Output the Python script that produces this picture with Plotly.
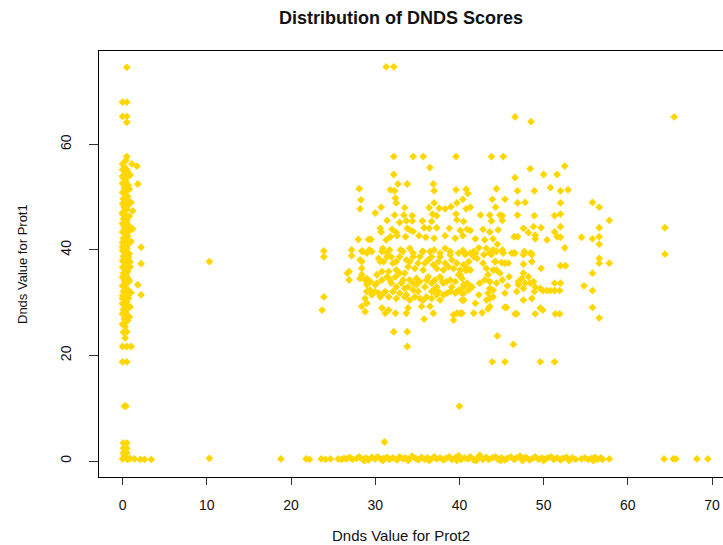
import plotly.graph_objects as go

# Genes with Prot2 dN/dS near zero (vertical band on the left)
band_prot2 = [0.5, 0.0, 1.1, 1.7, 0.0, 0.5, 0.3, 0.6, 0.1, 0.4, 0.0, 1.8, 0.7, 0.2, 0.5, 0.0, 0.3, 0.6, 0.1, 0.4,
              0.0, 0.7, 0.2, 0.5, 1.2, 0.0, 0.3, 0.6, 0.1, 0.4, 0.0, 0.7, 1.2, 0.2, 0.5, 0.0, 0.3, 0.6, 0.1, 0.4,
              0.0, 0.7, 0.2, 2.2, 0.5, 0.0, 0.3, 0.6, 0.1, 0.4, 0.0, 0.9, 0.2, 2.2, 0.5, 0.0, 0.3, 0.6, 0.1, 0.4,
              0.0, 0.7, 0.2, 1.8, 0.5, 0.0, 0.3, 0.6, 0.1, 0.4, 2.2, 0.0, 0.7, 0.2, 0.5, 0.0, 0.3, 0.6, 0.1, 0.4,
              0.0, 0.5, 0.2, 0.6, 0.1, 0.3, 0.5, 0.1, 0.3, 0.0, 0.5, 1.0, 0.0, 0.5, 0.2, 0.4,
              0.4, 0.2, 0.6, 0.0, 0.3, 0.5, 0.1, 0.6, 0.3, 0.0, 0.5, 0.2, 0.6, 0.3, 0.0, 0.4, 0.7, 0.2, 0.4, 0.1,
              0.6, 0.3, 0.0, 0.4, 0.2, 0.5, 0.0,
              0.9, 0.8, 1.0, 0.8, 0.9, 1.0, 0.8, 0.9, 0.8, 1.0, 0.9, 0.8,
              0.5, 0.0, 0.5, 0.0, 0.5, 0.5,
              0.1, 0.5, 0.1, 0.5, 0.1, 0.5, 0.0, 0.3, 0.6, 0.9, 2.1, 2.6, 3.4, 1.4, 0.2]
band_prot1 = [57.7, 56.3, 56.3, 55.9, 55.2, 55.2, 54.5, 53.9, 53.6, 53.0, 52.6, 52.5, 52.2, 51.8, 51.3, 50.9, 50.6, 50.1, 49.7, 49.4,
              48.8, 48.5, 48.1, 47.7, 47.4, 47.1, 46.6, 46.2, 45.9, 45.4, 45.0, 44.7, 44.0, 44.3, 43.8, 43.4, 43.1, 42.6, 42.2, 41.9,
              41.4, 41.1, 40.7, 40.5, 40.3, 39.9, 39.5, 39.2, 38.8, 38.3, 38.0, 37.7, 37.6, 37.4, 37.1, 36.7, 36.3, 35.9, 35.6, 35.2,
              34.8, 34.5, 34.1, 33.4, 33.7, 33.2, 32.9, 32.5, 32.1, 31.7, 31.5, 31.3, 30.9, 30.6, 30.2, 29.8, 29.4, 29.0, 28.7, 28.2,
              27.9, 27.4, 27.0, 26.6, 26.1, 25.5, 24.5, 24.4, 23.3, 21.7, 21.7, 21.7, 18.8, 18.8, 10.4, 10.4,
              57.0, 55.7, 54.8, 54.0, 52.9, 52.0, 51.0, 49.3, 48.0, 46.8, 45.6, 44.6, 43.3, 42.0, 40.6, 39.7, 38.6, 37.9, 36.5, 35.0,
              33.9, 32.4, 30.8, 29.6, 28.4, 26.9, 25.9,
              54.2, 51.5, 49.0, 46.4, 43.9, 41.6, 39.3, 36.8, 34.1, 31.9, 29.2, 27.3,
              74.6, 68.0, 68.0, 65.3, 65.3, 64.2,
              3.4, 3.4, 2.4, 2.4, 1.5, 1.5, 0.4, 0.6, 0.3, 0.5, 0.3, 0.3, 0.3, 0.4, 1.0]

# Genes with Prot1 dN/dS near zero (horizontal band along the bottom)
floor_prot2 = [10.3, 18.8, 21.8, 22.2, 23.6, 24.1, 24.7, 25.6, 26.0, 26.3,
               26.6, 27.0, 27.3, 27.8, 28.1, 28.5, 28.9, 29.2, 29.6, 30.0, 30.3, 30.7, 31.0, 31.4, 31.7, 32.1, 32.6, 32.9,
               33.3, 33.6, 34.0, 34.4, 34.8, 35.1, 35.5, 35.9, 36.2, 36.6, 37.0, 37.3, 37.7, 38.1, 38.4, 38.8, 39.1, 39.5,
               39.9, 40.2, 40.6, 41.0, 41.3, 41.7, 42.1, 42.4, 42.8, 43.2, 43.5, 43.9, 44.3, 44.6, 45.0, 45.4, 45.7, 46.1,
               46.5, 46.8, 47.2, 47.6, 47.9, 48.3, 48.7, 49.0, 49.4, 49.8, 50.1, 50.5, 50.9, 51.2, 51.6, 52.0, 52.3, 52.7,
               53.1, 53.4, 53.8, 54.5, 54.9, 55.3, 55.7, 56.1, 56.4, 56.8, 57.0, 57.8, 64.3, 65.4, 65.7, 68.2, 69.5,
               28.7, 30.9, 33.9, 36.4, 39.7, 42.0, 44.9, 47.5, 50.0, 53.0, 55.9, 31.1]
floor_prot1 = [0.5, 0.4, 0.4, 0.3, 0.4, 0.3, 0.4, 0.4, 0.3, 0.5,
               0.4, 0.7, 0.3, 0.5, 0.8, 0.3, 0.6, 0.2, 0.7, 0.4, 0.8, 0.3, 0.5, 0.7, 0.3, 0.6, 0.2, 0.8,
               0.4, 0.6, 0.3, 0.9, 0.5, 0.2, 0.7, 0.3, 0.6, 0.3, 0.8, 0.4, 0.6, 0.2, 0.5, 0.8, 0.3, 0.6,
               1.0, 0.3, 0.6, 0.4, 0.8, 0.2, 0.5, 1.1, 0.3, 0.7, 0.3, 0.6, 0.8, 0.3, 0.6, 0.2, 0.5, 0.8,
               0.3, 0.6, 0.9, 0.4, 0.7, 0.2, 0.5, 0.8, 0.3, 0.6, 0.3, 0.6, 0.8, 0.3, 0.6, 0.2, 0.5, 0.7,
               0.3, 0.6, 0.3, 0.4, 0.6, 0.3, 0.5, 0.7, 0.3, 0.6, 0.3, 0.4, 0.4, 0.4, 0.4, 0.4, 0.4,
               0.1, 0.1, 0.1, 0.1, 0.1, 0.1, 0.1, 0.1, 0.1, 0.1, 0.1, 3.6]

# Genes with both values away from zero (central cloud and scattered outliers)
cloud_prot2 = [31.3, 32.2, 46.6, 48.5, 65.5, 64.4, 64.4, 40.0, 10.3,
               32.2, 34.5, 35.7, 39.6, 36.5, 32.2, 32.7, 33.8, 36.9, 28.1, 31.8, 32.3, 37.0, 39.6, 40.8,
               28.3, 32.4, 40.4, 28.2, 32.5, 30.0, 30.7, 33.5, 36.4, 37.0, 37.6, 38.3, 39.0, 39.7, 40.8,
               32.3, 33.4, 34.4, 36.8, 37.3, 39.6, 31.4, 32.9, 33.7, 34.4, 35.6, 36.7, 39.7, 40.5,
               30.6, 30.7, 32.0, 32.5, 33.8, 34.1, 34.5, 35.8, 36.4, 37.3, 38.8, 40.1, 40.9,
               28.0, 29.2, 29.5, 31.3, 31.8, 32.6, 33.6, 35.2, 36.0, 37.0, 38.3, 39.5, 40.4,
               23.9, 23.9, 27.2, 27.2, 28.4, 29.3, 30.9, 31.7, 33.0, 34.1, 35.6, 37.0, 38.3, 38.9, 40.4,
               43.8, 45.2, 52.5, 48.4, 50.0, 51.6, 46.6, 50.8, 44.4, 46.9, 48.9, 52.0, 52.9, 41.0, 43.9, 45.4,
               46.9, 47.8, 52.0, 55.8, 56.6, 41.3, 44.3, 42.5, 43.6, 44.8, 45.1, 46.9, 48.9, 51.3, 52.0, 43.8,
               45.1, 57.8, 47.6, 48.8, 49.7, 52.0, 56.6, 42.8, 44.6, 41.3, 43.6, 48.2, 49.0, 51.3, 46.5, 46.9,
               49.0, 50.4, 51.6, 52.0, 54.5, 55.8, 56.6, 41.9, 43.0, 44.0, 44.5, 52.5, 56.6, 42.3, 43.2, 44.0,
               45.1, 46.6, 47.7, 48.5, 56.6, 41.9,
               26.9, 26.7, 26.9, 28.4, 28.4, 28.2, 28.8, 29.0, 29.0, 29.4, 28.8, 29.0, 28.4, 28.8, 23.9, 23.7,
               30.6, 30.8, 30.2, 30.0, 30.0, 31.0, 30.6, 30.8, 31.2, 31.6, 32.4, 32.1, 32.5, 31.6, 31.9, 32.5,
               32.5, 33.3, 33.7, 33.9, 33.5, 34.1, 33.5, 33.7, 34.1, 33.9, 33.7, 32.2, 33.8, 33.8, 34.5, 34.7,
               34.9, 34.5, 35.1, 35.7, 35.9, 35.7, 36.1, 35.7, 35.5, 36.5, 36.9, 35.8, 36.7, 37.3, 37.1, 36.9,
               36.7, 37.7, 38.1, 38.0, 37.5, 37.7, 38.9, 38.7, 38.9, 38.5, 39.3, 39.3, 39.7, 40.1, 39.7, 40.1,
               39.9, 40.5, 40.1, 40.5, 40.9, 41.1,
               28.5, 29.0, 29.6, 30.8, 31.4, 34.5, 36.5, 37.7, 39.9, 40.7,
               28.2, 30.4, 31.0, 31.4, 31.9, 32.5, 32.9, 34.1, 35.1, 35.3, 36.3, 36.9, 37.5, 38.3, 39.1, 39.3, 40.5,
               28.4, 29.0, 29.4, 30.2, 30.8, 31.4, 31.8, 32.4, 32.9, 33.1, 33.3, 33.9, 34.5, 34.9, 35.3, 35.9,
               36.3, 36.7, 37.3, 37.7, 38.1, 38.5, 39.1, 39.5, 39.9, 40.3, 40.9, 41.1,
               29.6, 30.4, 31.2, 31.6, 32.1, 32.9, 33.5, 34.7, 35.3, 36.1, 36.7, 37.3, 38.1, 38.9, 39.5, 40.3,
               56.6, 57.8, 52.0, 52.6, 49.7, 55.8, 54.8, 55.8, 55.8, 56.6, 51.3, 52.0, 51.3, 51.9, 50.8, 49.9,
               49.6, 48.8, 48.9, 48.6, 47.6, 46.8, 47.0, 47.4, 47.6, 48.2, 47.6, 48.6, 47.6, 49.6, 49.9, 49.0,
               46.8, 45.6, 51.4, 51.9, 44.5, 46.4, 43.9, 45.4, 49.6, 51.3, 45.7, 45.9, 45.1, 44.8, 44.0, 43.4,
               43.6, 43.6, 43.4, 43.6, 45.4, 47.6, 42.3, 41.9, 40.5, 41.3, 41.7, 42.7, 43.4, 40.3, 41.7, 41.7,
               42.8, 43.8, 44.3, 45.4, 46.2, 48.4, 41.3, 40.9,
               40.5, 41.3, 42.1, 42.9, 43.6, 44.4, 45.2, 46.4, 48.6, 44.2, 45.0, 45.8, 43.2, 44.4, 40.7, 40.1,
               40.5, 41.5, 42.4, 43.0, 44.0, 44.4, 47.0, 47.8, 48.4, 49.0, 50.4, 40.5, 40.3, 43.2, 44.0, 43.6,
               45.4, 46.6]
cloud_prot1 = [74.7, 74.7, 65.2, 64.3, 65.2, 44.2, 39.2, 10.4, 37.8,
               57.7, 57.7, 57.7, 57.7, 55.6, 54.3, 52.5, 52.5, 52.5, 51.6, 51.4, 51.2, 51.2, 51.4, 51.5,
               49.5, 49.8, 49.6, 47.8, 48.9, 47.0, 48.1, 48.0, 48.0, 48.9, 47.9, 47.8, 48.2, 48.9, 47.8,
               46.6, 46.6, 46.5, 46.8, 46.5, 46.8, 45.6, 45.2, 45.5, 45.5, 45.5, 45.4, 45.7, 45.4,
               44.1, 43.4, 43.9, 43.3, 44.1, 43.8, 43.5, 44.2, 44.1, 44.2, 44.1, 43.7, 43.9,
               42.0, 42.0, 42.0, 41.9, 42.5, 42.7, 42.5, 42.7, 42.4, 42.2, 42.7, 42.2, 42.7,
               39.8, 38.7, 40.0, 38.9, 39.8, 40.0, 40.3, 40.0, 40.0, 40.3, 39.7, 40.0, 40.3, 39.7, 39.9,
               57.7, 57.7, 55.9, 55.4, 54.3, 54.3, 53.7, 51.8, 51.6, 51.2, 51.2, 51.2, 51.4, 50.7, 49.6, 49.6,
               48.9, 49.0, 48.9, 49.0, 48.1, 48.1, 48.1, 46.6, 46.6, 46.6, 46.5, 46.6, 46.5, 46.5, 46.8, 45.5,
               45.6, 45.6, 44.1, 44.4, 44.2, 44.4, 44.2, 43.9, 43.8, 43.7, 43.4, 43.3, 42.8, 43.4, 42.5, 42.5,
               42.1, 41.9, 42.5, 42.4, 42.4, 42.1, 42.5, 42.1, 41.9, 42.1, 41.1, 40.4, 41.1, 40.4, 40.3, 40.0,
               40.0, 39.4, 39.7, 39.4, 38.4, 39.4,
               35.9, 35.6, 34.3, 37.8, 36.5, 34.6, 34.3, 33.4, 32.1, 32.4, 30.8, 29.9, 29.3, 28.3, 31.1, 28.6,
               37.8, 35.9, 35.3, 33.4, 32.1, 31.8, 31.1, 29.0, 28.0, 28.6, 28.0, 37.5, 36.2, 35.9, 33.7, 33.0,
               30.8, 39.7, 38.1, 36.8, 35.6, 34.3, 32.7, 31.5, 30.5, 29.0, 28.0, 24.5, 24.5, 21.7, 38.7, 36.5,
               34.6, 33.7, 32.1, 39.7, 37.5, 36.2, 34.3, 30.5, 29.3, 29.3, 28.0, 26.9, 38.7, 36.5, 34.3, 32.4,
               30.8, 38.7, 36.2, 34.0, 32.1, 30.5, 39.1, 36.8, 34.3, 31.8, 27.7, 26.7, 28.0, 28.0, 37.5, 36.2,
               35.3, 33.4, 32.1, 30.5, 36.2, 37.8,
               39.7, 39.4, 39.7, 39.7, 39.4, 39.4, 39.7, 39.4, 39.4, 39.1,
               38.1, 38.4, 37.8, 38.7, 38.7, 37.8, 38.7, 37.8, 37.5, 38.7, 38.1, 37.2, 37.8, 37.5, 38.1, 36.5, 37.2,
               35.3, 34.6, 34.0, 33.7, 34.3, 34.9, 34.3, 34.9, 35.6, 33.7, 34.3, 33.0, 32.4, 33.4, 34.0, 33.0,
               34.9, 33.7, 33.0, 34.9, 33.7, 34.0, 33.0, 34.0, 32.4, 34.6, 33.7, 32.4,
               31.5, 31.8, 32.1, 31.1, 32.1, 31.8, 31.1, 31.1, 30.8, 31.1, 32.1, 31.5, 31.5, 32.1, 31.8, 30.5,
               37.5, 37.5, 37.0, 37.0, 36.5, 35.6, 33.2, 32.3, 29.1, 27.1, 33.7, 33.7, 32.3, 32.3, 32.3, 32.3,
               32.7, 34.0, 32.1, 30.8, 30.5, 32.1, 33.4, 34.6, 35.6, 34.9, 37.3, 37.8, 39.1, 29.0, 28.6, 27.9,
               27.9, 29.1, 27.9, 27.9, 23.7, 22.1, 18.8, 18.8, 18.8, 18.8, 33.2, 34.9, 34.3, 35.6, 36.2, 35.3,
               34.0, 32.7, 31.8, 30.8, 31.8, 32.7, 31.5, 29.9, 31.8, 33.2, 28.0, 28.1, 28.8, 28.0, 38.7, 39.7,
               37.5, 39.1, 37.8, 37.5, 39.4, 39.4, 36.2, 36.5,
               39.7, 39.4, 38.4, 39.1, 39.4, 39.7, 39.4, 39.4, 39.1, 37.8, 37.6, 37.5, 36.5, 36.2, 36.2, 35.3,
               33.0, 33.0, 33.7, 34.3, 32.4, 33.7, 34.0, 33.7, 33.7, 33.0, 32.3, 30.5, 31.8, 30.5, 31.1, 29.3,
               29.1, 27.9]

x_ticks = [0, 10, 20, 30, 40, 50, 60, 70]
y_ticks = [0, 20, 40, 60]

title_text = "Distribution of DNDS Scores"
x_label = "Dnds Value for Prot2"
y_label = "Dnds Value for Prot1"

GOLD = "#FFD700"
marker = dict(symbol="diamond", size=6, color=GOLD, line=dict(width=0))

fig = go.Figure()
for xs, ys in [(floor_prot2, floor_prot1), (band_prot2, band_prot1), (cloud_prot2, cloud_prot1)]:
    fig.add_trace(go.Scatter(x=xs, y=ys, mode="markers", marker=marker,
                             hoverinfo="x+y", showlegend=False))

fig.update_layout(
    width=723, height=545,
    margin=dict(l=99, r=0, t=51, b=68),
    plot_bgcolor="white", paper_bgcolor="white",
    font=dict(family="Liberation Sans, Arial, sans-serif", color="#111"),
    showlegend=False,
)

fig.update_xaxes(
    range=[-2.8, 71.3], tickvals=x_ticks, ticktext=[str(v) for v in x_ticks],
    ticks="outside", ticklen=7, tickwidth=1, tickcolor="#333",
    showline=True, linecolor="black", linewidth=1, mirror=True,
    showgrid=False, zeroline=False,
    tickfont=dict(size=14, color="#111"), ticklabelstandoff=8,
)
fig.update_yaxes(
    range=[-3.03, 77.7], tickvals=y_ticks, ticktext=[str(v) for v in y_ticks],
    ticks="outside", ticklen=9, tickwidth=1, tickcolor="#333",
    showline=True, linecolor="black", linewidth=1, mirror=False,
    showgrid=False, zeroline=False, tickangle=-90,
    tickfont=dict(size=14, color="#111"), ticklabelstandoff=12,
)

# Texts are centred at x = 401 px, i.e. (401 - 99) / 624 in paper units
fig.add_annotation(text="<b>" + title_text + "</b>", xref="paper", yref="paper",
                   x=0.484, y=1.0775, xanchor="center", yanchor="middle",
                   showarrow=False, font=dict(size=18, color="#111"))
fig.add_annotation(text=x_label, xref="paper", yref="paper",
                   x=0.484, y=-0.1362, xanchor="center", yanchor="middle",
                   showarrow=False, font=dict(size=15, color="#111"))
fig.add_annotation(text=y_label, xref="paper", yref="paper", textangle=-90,
                   x=-0.1234, y=0.5, xanchor="center", yanchor="middle",
                   showarrow=False, font=dict(size=13, color="#111"))

fig.write_html("out.html")
